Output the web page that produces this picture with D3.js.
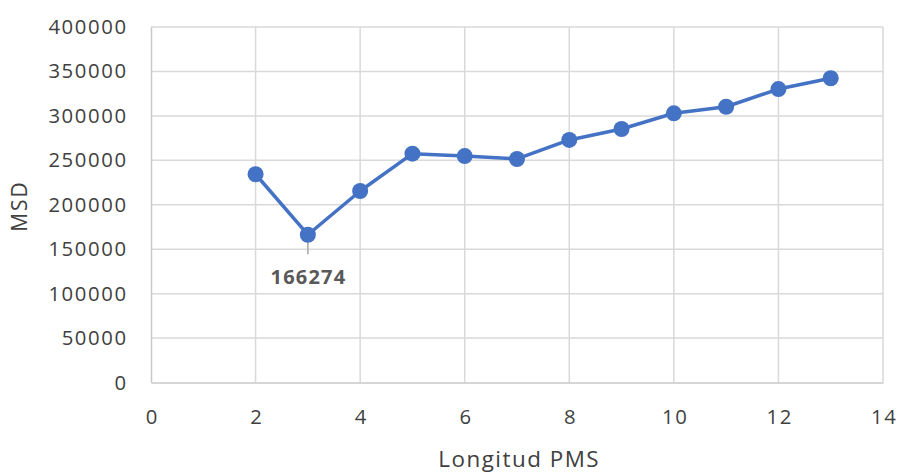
<!DOCTYPE html>
<html>
<head>
<meta charset="utf-8">
<script src="https://cdn.jsdelivr.net/npm/d3@7"></script>
<style>
  html, body { margin: 0; padding: 0; background: #fff; }
  svg { display: block; }
  text { font-family: "Open Sans", "Liberation Sans", sans-serif; }
</style>
</head>
<body>
<svg id="chart" width="899" height="472"></svg>
<script>
// PMS length vs. MSD
const lengths = [2, 3, 4, 5, 6, 7, 8, 9, 10, 11, 12, 13];
const msd = [234300, 166274, 215500, 257500, 254800, 251500, 272900, 285200, 302900, 310300, 330200, 342300];
const xTicks = [0, 2, 4, 6, 8, 10, 12, 14];
const yTicks = [0, 50000, 100000, 150000, 200000, 250000, 300000, 350000, 400000];
const labelledIndex = 1;

const svg = d3.select("#chart");
const plotLeft = 151, plotRight = 883, plotTop = 27, plotBottom = 382.5;

const x = d3.scaleLinear().domain([0, 14]).range([plotLeft, plotRight]);
const y = d3.scaleLinear().domain([0, 400000]).range([plotBottom, plotTop]);

const gridColor = "#d9d9d9";
const textColor = "#404040";

// gridlines
svg.append("g").selectAll("line").data(xTicks.slice(1)).join("line")
  .attr("x1", d => x(d)).attr("x2", d => x(d))
  .attr("y1", plotTop).attr("y2", plotBottom)
  .attr("stroke", gridColor).attr("stroke-width", 1.5);
svg.append("g").selectAll("line").data(yTicks.slice(1)).join("line")
  .attr("x1", plotLeft).attr("x2", plotRight)
  .attr("y1", d => y(d)).attr("y2", d => y(d))
  .attr("stroke", gridColor).attr("stroke-width", 1.5);

// axes
const xAxis = svg.append("g").attr("transform", `translate(0,${plotBottom})`)
  .call(d3.axisBottom(x).tickValues(xTicks).tickSize(0).tickPadding(27).tickFormat(d3.format("d")));
const yAxis = svg.append("g").attr("transform", `translate(${plotLeft},0)`)
  .call(d3.axisLeft(y).tickValues(yTicks).tickSize(0).tickPadding(23.4).tickFormat(d3.format("d")));
[xAxis, yAxis].forEach(g => {
  g.select(".domain").attr("stroke", "#c8c8c8").attr("stroke-width", 1.5);
  g.selectAll("text").attr("fill", textColor).style("font-size", "20.3px").style("letter-spacing", "1.6px");
});
xAxis.selectAll("text").attr("dx", "0.8px").attr("dy", "0.7em");

// axis titles
svg.append("text").attr("x", 519.2).attr("y", 467)
  .attr("text-anchor", "middle").attr("fill", textColor)
  .style("font-size", "22.4px").style("letter-spacing", "1.5px").text("Longitud PMS");
svg.append("text").attr("transform", "translate(26.7,206) rotate(-90)")
  .attr("text-anchor", "middle").attr("fill", textColor)
  .style("font-size", "21px").style("letter-spacing", "2px").text("MSD");

// series
const pts = lengths.map((l, i) => ({ l, v: msd[i] }));
const line = d3.line().x(d => x(d.l)).y(d => y(d.v));
svg.append("path").datum(pts).attr("d", line)
  .attr("fill", "none").attr("stroke", "#4472c4").attr("stroke-width", 3.5)
  .attr("stroke-linejoin", "round");

// data label leader + text
const lp = pts[labelledIndex];
svg.append("line")
  .attr("x1", x(lp.l)).attr("x2", x(lp.l))
  .attr("y1", y(lp.v)).attr("y2", y(lp.v) + 19.5)
  .attr("stroke", "#a6a6a6").attr("stroke-width", 1.5);

svg.append("g").selectAll("circle").data(pts).join("circle")
  .attr("cx", d => x(d.l)).attr("cy", d => y(d.v)).attr("r", 8)
  .attr("fill", "#4472c4");

svg.append("text").attr("x", x(lp.l) + 0.6).attr("y", y(lp.v) + 49.3)
  .attr("text-anchor", "middle").attr("fill", "#595959")
  .style("font-size", "20px").style("font-weight", "bold").style("letter-spacing", "1.2px")
  .text(d3.format("d")(lp.v));
</script>
</body>
</html>
